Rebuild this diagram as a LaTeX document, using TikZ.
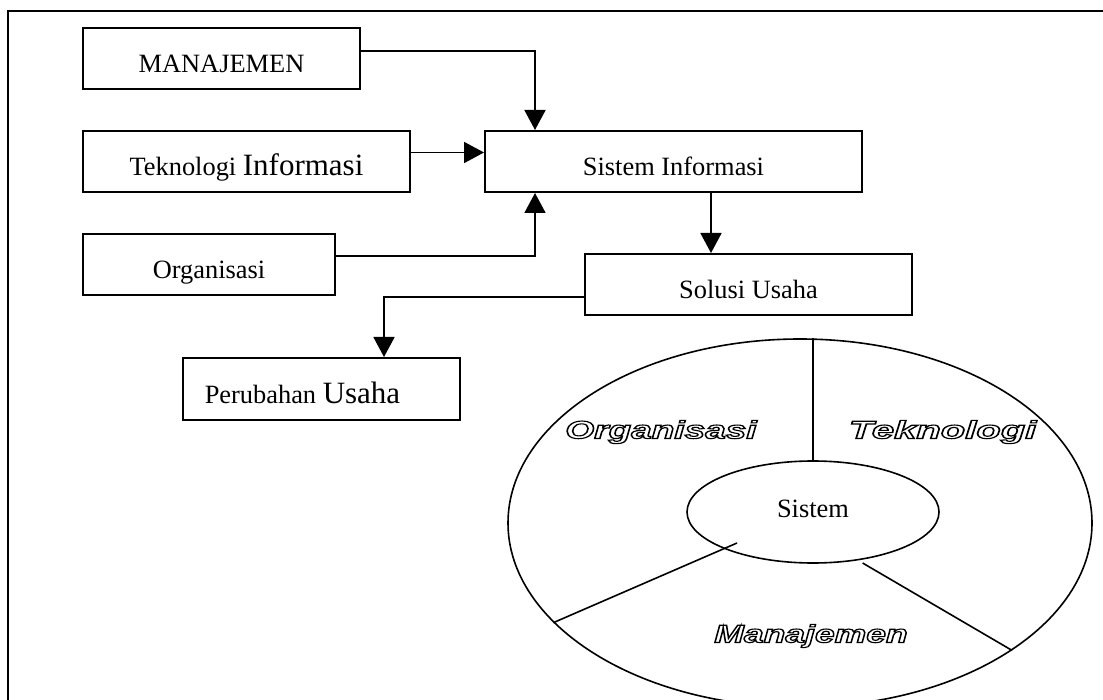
\documentclass[tikz,border=0pt]{standalone}
\usepackage{graphicx}
\usepackage{fontspec}
\setmainfont{Liberation Serif}
\newfontfamily\artfont{Liberation Sans}
\usetikzlibrary{arrows.meta,shapes.geometric,calc}
\tikzset{
  box/.style={draw, line width=2pt, rectangle, inner sep=0pt, text height=28pt, text depth=0pt, minimum height=61pt, font=\fontsize{26.4}{30}\selectfont},
  conn/.style={line width=1.8pt, -{Triangle[length=20pt,width=21pt]}},
  art/.style={font=\artfont\bfseries\itshape\fontsize{25}{28}\selectfont, inner sep=0pt},
  ring/.style={draw, ellipse, line width=1.6pt, inner sep=0pt},
  spoke/.style={line width=1.6pt},
  frame/.style={line width=2pt}
}
\newcommand{\bigw}[1]{{\fontsize{31}{34}\selectfont #1}}
\newcommand{\hollow}[2]{\scalebox{#1}[1]{\special{pdf:literal direct 1 Tr 1.1 w}#2\special{pdf:literal direct 0 Tr}}}
\begin{document}
\begin{tikzpicture}[x=1pt,y=-1pt]
\clip (0,0) rectangle (1103,700);
\draw[frame] (8,11.5) rectangle (1130,730);

\node[box, minimum width=277pt] (m) at (221.5,58.5) {MANAJEMEN};
\node[box, minimum width=327pt] (t) at (246.5,161.5) {Teknologi \bigw{Informasi}};
\node[box, minimum width=252pt] (o) at (209,264.5) {Organisasi};
\node[box, minimum width=377pt] (s) at (673.5,161.5) {Sistem Informasi};
\node[box, minimum width=327pt] (su) at (748.5,284.5) {Solusi Usaha};
\node[box, minimum width=277pt, minimum height=62pt] (p) at (321.5,389) {Perubahan \bigw{Usaha}\hspace*{38pt}};

\coordinate (ma) at ($(m.east)+(0,-7.8)$);
\coordinate (mb) at ($(s.north west)+(51,0)$);
\coordinate (ta) at ($(t.east)+(0,-9)$);
\coordinate (oa) at ($(o.east)+(0,-8.5)$);
\coordinate (ob) at ($(s.south west)+(51,0)$);
\coordinate (sa) at ($(s.south)+(37.5,0)$);
\coordinate (ua) at ($(su.west)+(0,12.5)$);
\coordinate (pb) at ($(p.north west)+(202,0)$);

\draw[conn] (ma) -| (mb);
\draw[conn] (ta) -- (ta -| s.west);
\draw[conn] (oa) -| (ob);
\draw[conn] (sa) -- (sa |- su.north);
\draw[conn] (ua) -| (pb);

\node[ring, minimum width=584pt, minimum height=368pt] (outer) at (800,523) {};
\node[ring, minimum width=252pt, minimum height=102pt, font=\fontsize{26.4}{30}\selectfont, text height=10pt, text depth=0pt] (inner) at (813,512) {Sistem};

\draw[spoke] (inner.north) -- (inner.north |- outer.north);
\draw[spoke] ($(inner.center)+(-76,31)$) -- (outer.202.9);
\draw[spoke] ($(inner.center)+(49.6,51)$) -- (outer.329.9);

\node[art] (lo) at (661,432) {\hollow{1.48}{Organisasi}};
\node[art] (lt) at (942.6,432) {\hollow{1.6}{Teknologi}};
\node[art] (lm) at (811,636) {\hollow{1.42}{Manajemen}};
\end{tikzpicture}
\end{document}
